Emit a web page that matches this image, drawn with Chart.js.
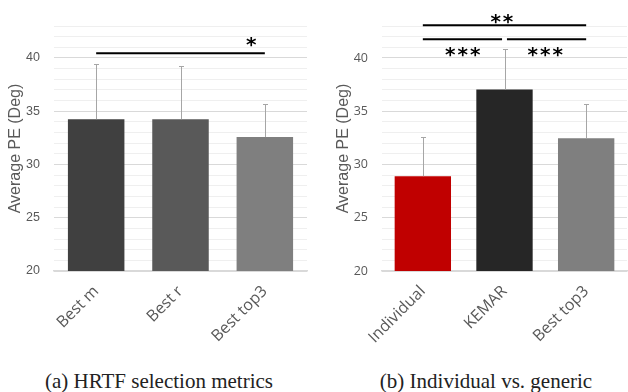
<!DOCTYPE html>
<html>
<head>
<meta charset="utf-8">
<script src="https://cdn.jsdelivr.net/npm/chart.js@4.4.0/dist/chart.umd.min.js"></script>
<style>
    body { margin: 0; background: #fff; }
    #wrap { position: relative; width: 628px; height: 392px; }
    canvas { position: absolute; top: 0; }
    #chartA { left: 0; }
    #chartB { left: 314px; }
    .caption {
        position: absolute; top: 369px; width: 314px; text-align: center;
        font-family: "Liberation Serif", serif; font-size: 21px; color: #222;
    }
</style>
</head>
<body>
<div id="wrap">
    <canvas id="chartA" width="314" height="345"></canvas>
    <canvas id="chartB" width="314" height="345"></canvas>
    <div class="caption" style="left: 2px;">(a) HRTF selection metrics</div>
    <div class="caption" style="left: 329px;">(b) Individual vs. generic</div>
</div>
<script>
// panel (a)
const labelsA = ["Best m", "Best r", "Best top3"];
const meansA = [34.25, 34.25, 32.57];
const errorsA = [5.15, 4.95, 3.13];
const colorsA = ["#404040", "#595959", "#7f7f7f"];
// bracket: from category, to category, y value
const bracketsA = [
    { from: 0, to: 2, y: 40.45 }
];
const starsA = [
    { text: "*", at: 1.85, y: 41.66 }
];

// panel (b)
const labelsB = ["Individual", "KEMAR", "Best top3"];
const meansB = [28.9, 37.04, 32.47];
const errorsB = [3.67, 3.76, 3.23];
const colorsB = ["#c00000", "#262626", "#7f7f7f"];
const bracketsB = [
    { from: 0, to: 2, y: 43.06 },
    { from: 0, to: 0.97, y: 41.75 },
    { from: 1.03, to: 2, y: 41.75 }
];
const starsB = [
    { text: "**", at: 0.98, y: 43.8 },
    { text: "***", at: 0.5, y: 40.72 },
    { text: "***", at: 1.51, y: 40.72 }
];

const yMin = 20;
const yMax = 43;
const textGray = "#595959";

// error bars (upper only) and significance brackets
const extrasPlugin = {
    id: "extras",
    afterDatasetsDraw(chart, args, opts) {
        const ctx = chart.ctx;
        const x = chart.scales.x;
        const y = chart.scales.y;
        const means = chart.data.datasets[0].data;

        ctx.save();
        ctx.strokeStyle = "#a6a6a6";
        ctx.lineWidth = 1;
        opts.errors.forEach((err, i) => {
            const cx = Math.round(x.getPixelForValue(i)) + 0.5;
            const y0 = y.getPixelForValue(means[i]);
            const y1 = Math.round(y.getPixelForValue(means[i] + err)) + 0.5;
            ctx.beginPath();
            ctx.moveTo(cx, y0);
            ctx.lineTo(cx, y1);
            ctx.moveTo(cx - 2.5, y1);
            ctx.lineTo(cx + 2.5, y1);
            ctx.stroke();
        });

        ctx.strokeStyle = "#000";
        ctx.lineWidth = 2;
        opts.brackets.forEach((b) => {
            const py = y.getPixelForValue(b.y);
            ctx.beginPath();
            ctx.moveTo(x.getPixelForValue(b.from), py);
            ctx.lineTo(x.getPixelForValue(b.to), py);
            ctx.stroke();
        });

        ctx.fillStyle = "#000";
        ctx.font = "bold 20px 'DejaVu Sans'";
        ctx.textAlign = "center";
        ctx.textBaseline = "alphabetic";
        ctx.letterSpacing = "2px";
        opts.stars.forEach((s) => {
            ctx.fillText(s.text, x.getPixelForValue(s.at), y.getPixelForValue(s.y) + 11);
        });
        ctx.restore();
    }
};

function barPanel(canvasId, labels, means, errors, colors, brackets, stars, cfg) {
    return new Chart(document.getElementById(canvasId), {
        type: "bar",
        data: {
            labels: labels,
            datasets: [{
                data: means,
                backgroundColor: colors,
                barPercentage: cfg.barPct,
                categoryPercentage: 1
            }]
        },
        options: {
            responsive: false,
            animation: false,
            layout: { padding: { top: 26, right: cfg.padRight, left: 0, bottom: 0 } },
            plugins: {
                legend: { display: false },
                tooltip: { enabled: false },
                extras: { errors: errors, brackets: brackets, stars: stars }
            },
            scales: {
                x: {
                    afterFit: (scale) => { scale.height = 74; },
                    grid: { display: false },
                    border: { display: true, color: "#d9d9d9", width: 1.5 },
                    ticks: {
                        color: textGray,
                        font: { family: "'Open Sans'", size: 16 },
                        minRotation: 45,
                        maxRotation: 45,
                        padding: 3
                    }
                },
                y: {
                    min: yMin,
                    max: yMax,
                    afterFit: (scale) => { scale.width = cfg.axisWidth; },
                    border: { display: false },
                    grid: {
                        drawTicks: false,
                        color: (c) => (c.tick && c.tick.value % 5 === 0) ? "#d9d9d9" : "#efefef"
                    },
                    ticks: {
                        stepSize: 1,
                        autoSkip: false,
                        padding: 14,
                        color: textGray,
                        font: { family: cfg.tickFont, size: 12.5 },
                        callback: (v) => (v % 5 === 0 ? v : "")
                    },
                    title: {
                        display: true,
                        text: "Average PE (Deg)",
                        color: textGray,
                        font: { family: "'Liberation Sans'", size: 16 },
                        padding: { top: cfg.titlePad, bottom: 0 }
                    }
                }
            }
        },
        plugins: [extrasPlugin]
    });
}

barPanel("chartA", labelsA, meansA, errorsA, colorsA, bracketsA, starsA,
    { barPct: 0.67, padRight: 7, axisWidth: 54, titlePad: 6, tickFont: "'Liberation Sans'" });
barPanel("chartB", labelsB, meansB, errorsB, colorsB, bracketsB, starsB,
    { barPct: 0.69, padRight: 1, axisWidth: 68, titlePad: 20, tickFont: "'Open Sans'" });
</script>
</body>
</html>
